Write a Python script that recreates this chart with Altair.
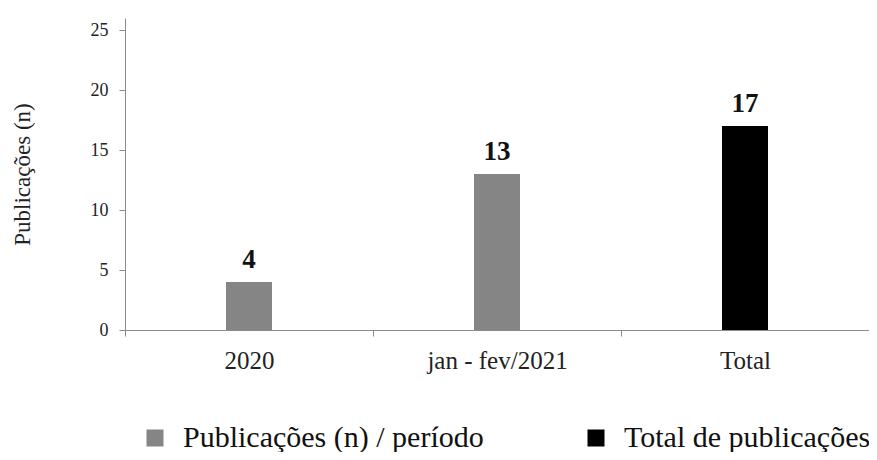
import altair as alt
import pandas as pd

categorias = ["2020", "jan - fev/2021", "Total"]
valores = [4, 13, 17]
series = ["Publicações (n) / período", "Publicações (n) / período", "Total de publicações"]

df = pd.DataFrame({"cat": categorias, "val": valores, "serie": series})

FONT = "Liberation Serif"

bars = alt.Chart(df).mark_bar(size=46).encode(
    x=alt.X("cat:N", sort=categorias, title=None,
            scale=alt.Scale(paddingInner=0, paddingOuter=0),
            axis=alt.Axis(labelAngle=0, tickBand="extent")),
    y=alt.Y("val:Q", title="Publicações  (n)",
            scale=alt.Scale(domain=[0, 25]),
            axis=alt.Axis(values=[0, 5, 10, 15, 20, 25])),
    color=alt.Color("serie:N", title=None,
                    scale=alt.Scale(domain=["Publicações (n) / período", "Total de publicações"],
                                    range=["#858585", "#000000"]),
                    legend=alt.Legend(orient="none", legendX=15, legendY=405, direction="horizontal")),
)

labels = alt.Chart(df).mark_text(baseline="alphabetic", dy=-14, font=FONT, fontSize=27,
                                 fontWeight="bold", color="#111").encode(
    x=alt.X("cat:N", sort=categorias),
    y="val:Q",
    text="val:Q",
)

chart = (bars + labels).properties(
    width=744, height=312,
    autosize=alt.AutoSizeParams(type="none"),
    padding={"left": 117, "top": 10, "right": 0, "bottom": 122},
).configure(font=FONT).configure_view(stroke=None).configure_axis(
    grid=False, labelFont=FONT, labelColor="#222",
    domainColor="#8a8a8a", tickColor="#8a8a8a", tickSize=6,
    titleFont=FONT, titleFontWeight="normal", titleColor="#222",
).configure_axisX(labelFontSize=25, labelPadding=12).configure_axisY(
    labelFontSize=18, labelPadding=11, titleFontSize=23, titlePadding=56,
).configure_legend(
    symbolType="square", symbolSize=289, symbolStrokeWidth=0,
    labelFont=FONT, labelFontSize=30, labelColor="#111",
    labelLimit=500, columnPadding=97, labelOffset=13,
)

chart.save("out.html", embed_options={"renderer": "svg", "actions": False})
